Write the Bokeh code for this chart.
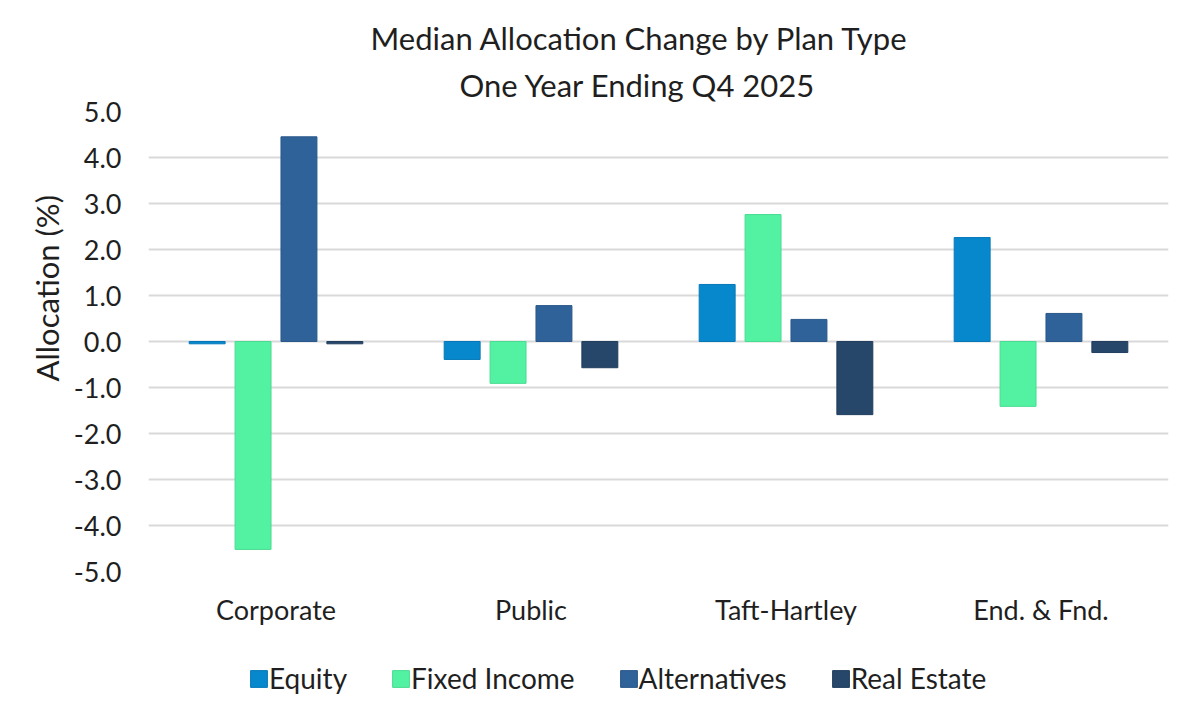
from bokeh.plotting import figure
from bokeh.layouts import column
from bokeh.models import Range1d, Title, Legend, LegendItem, ColumnDataSource, PrintfTickFormatter, FixedTicker
from bokeh.transform import dodge
from bokeh.embed import file_html
from bokeh.resources import INLINE

categories = ["Corporate", "Public", "Taft-Hartley", "End. & Fnd."]
series_names = ["Equity", "Fixed Income", "Alternatives", "Real Estate"]
equity = [-0.05, -0.39, 1.24, 2.26]
fixed_income = [-4.52, -0.91, 2.76, -1.41]
alternatives = [4.45, 0.78, 0.48, 0.61]
real_estate = [-0.05, -0.57, -1.59, -0.24]
y_ticks = [-5, -4, -3, -2, -1, 0, 1, 2, 3, 4, 5]

colors = ["#0788CC", "#52F2A2", "#2F6299", "#264769"]
edges = ["#0678B8", "#4ADB92", "#2A588A", "#213E5E"]
offsets = [-0.27, -0.09, 0.09, 0.27]

src = ColumnDataSource(dict(cat=categories, Equity=equity, FI=fixed_income,
                            Alt=alternatives, RE=real_estate))
cols = ["Equity", "FI", "Alt", "RE"]

FONT = "Lato"
TXT = "#1f1f1f"

p = figure(frame_width=1020, frame_height=460, x_range=categories, y_range=Range1d(-5, 5),
           output_backend="svg", toolbar_location=None,
           min_border_left=148, min_border_right=16, min_border_top=111, min_border_bottom=77)
p.outline_line_color = None
p.background_fill_color = "white"
p.border_fill_color = "white"

for c, off, col, ec in zip(cols, offsets, colors, edges):
    p.vbar(x=dodge("cat", off, range=p.x_range), top=c, bottom=0, width=0.141,
           source=src, fill_color=col, line_color=ec, line_width=1)

p.xgrid.grid_line_color = None
p.ygrid.grid_line_color = "#d9d9d9"
p.ygrid.grid_line_width = 2
p.yaxis.ticker = FixedTicker(ticks=y_ticks)
p.yaxis.formatter = PrintfTickFormatter(format="%.1f")

for ax in (p.xaxis[0], p.yaxis[0]):
    ax.axis_line_color = None
    ax.major_tick_line_color = None
    ax.minor_tick_line_color = None
    ax.major_label_text_font = FONT
    ax.major_label_text_color = TXT
    ax.major_label_text_font_size = "27px"

p.yaxis.major_label_standoff = 21
p.xaxis.major_label_standoff = 15

ylab = Title(text="Allocation (%)", align="left", offset=190, text_font=FONT,
             text_font_size="31px", text_font_style="normal", text_color=TXT, standoff=10)
p.add_layout(ylab, "left")

p.title = None
t2 = Title(text="One Year Ending Q4 2025", align="left", offset=311, text_font=FONT,
           text_font_size="31px", text_font_style="normal", text_color=TXT, standoff=15)
t1 = Title(text="Median Allocation Change by Plan Type", align="left", offset=222, text_font=FONT,
           text_font_size="31px", text_font_style="normal", text_color=TXT, standoff=0)
p.add_layout(t2, "above")
p.add_layout(t1, "above")

# legend strip below the chart
pl = figure(width=1184, height=62, x_range=Range1d(0, 1), y_range=Range1d(0, 1),
            x_axis_location=None, y_axis_location=None,
            output_backend="svg", toolbar_location=None,
            min_border_left=0, min_border_right=0, min_border_top=0, min_border_bottom=0)
pl.title = None
pl.grid.grid_line_color = None
pl.outline_line_color = None
pl.border_fill_color = "white"
dummies = []
for col, ec in zip(colors, edges):
    # single off-screen bar per series, only used to draw the legend swatch
    dummies.append(pl.vbar(x=[-10], top=[-10], width=0.1, fill_color=col, line_color=ec, line_width=1))

legend = Legend(items=[LegendItem(label=n, renderers=[r]) for n, r in zip(series_names, dummies)],
                orientation="horizontal", location=(100, 15),
                label_text_font=FONT, label_text_font_size="28px", label_text_color=TXT,
                glyph_width=21, glyph_height=21, label_standoff=0, spacing=43,
                border_line_color=None, background_fill_alpha=0, margin=0, padding=9)
pl.add_layout(legend, "center")

layout = column(p, pl, spacing=0)
open("out.html", "w").write(file_html(layout, INLINE))
